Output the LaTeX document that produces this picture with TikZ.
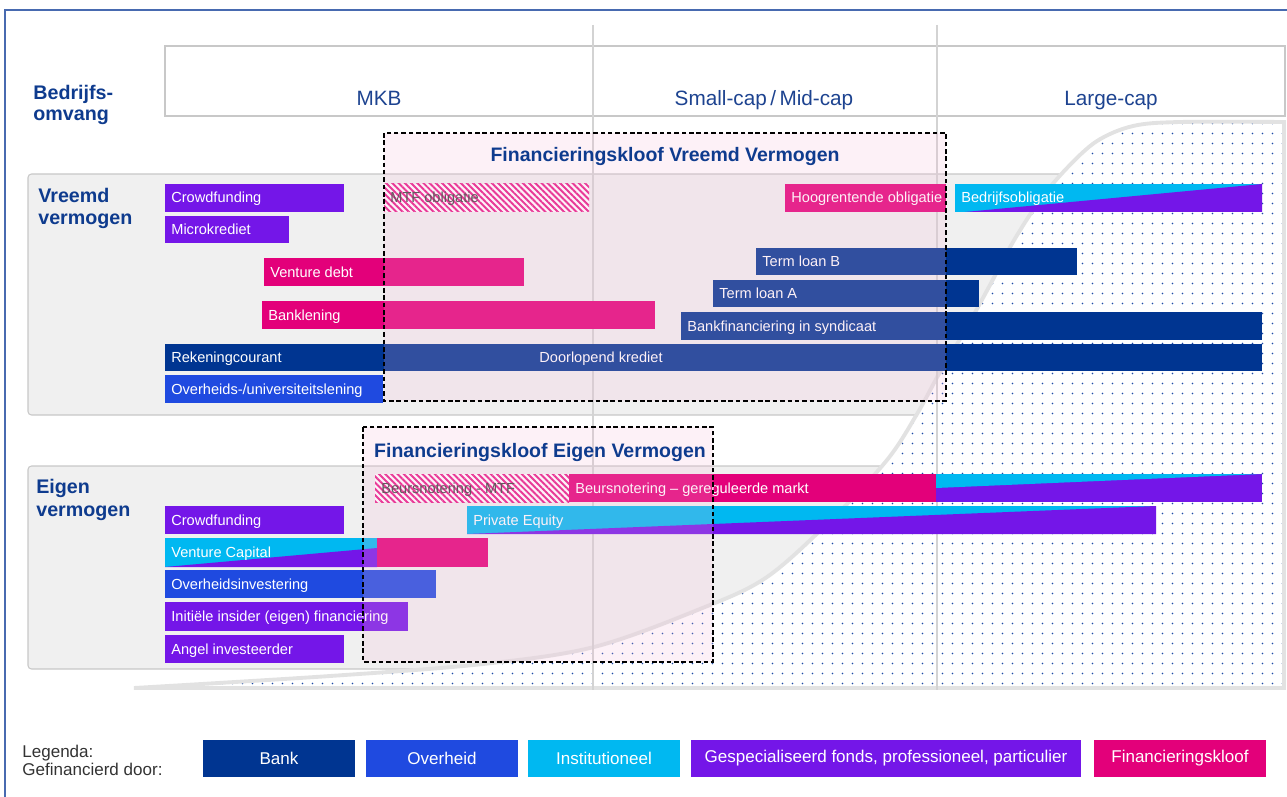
\documentclass[tikz,border=0pt]{standalone}
\usepackage{fontspec}
\setmainfont{Liberation Sans}
\usetikzlibrary{patterns.meta}

\definecolor{bank}{HTML}{003591}
\definecolor{overheid}{HTML}{1F4AE0}
\definecolor{instit}{HTML}{00B8F1}
\definecolor{fonds}{HTML}{7416E8}
\definecolor{kloof}{HTML}{E3007A}
\definecolor{donkerblauw}{HTML}{0E3B8E}
\definecolor{kopblauw}{HTML}{1D4390}
\definecolor{paneel}{HTML}{F0F0F0}
\definecolor{lijngrijs}{HTML}{C8C8C8}
\definecolor{curvegrijs}{HTML}{E2E2E2}
\definecolor{stip}{HTML}{1E4AA8}
\definecolor{roze}{RGB}{245,185,215}
\definecolor{kader}{RGB}{72,106,176}

\tikzset{
  kloofvak/.style={draw=black, line width=0.7pt, dash pattern=on 2.6pt off 1.6pt, fill=roze, fill opacity=0.2},
  arcering/.style={preaction={fill=white}, pattern={Lines[angle=-45,distance=2.5pt,line width=1.1pt]}, pattern color=kloof!90},
  legvak/.style={minimum height=0.74cm, inner sep=0pt, text=white, font=\fontsize{9.7}{11}\selectfont},
}

\begin{document}
\begin{tikzpicture}[x=0.02cm, y=-0.02cm]
\useasboundingbox (0,0) rectangle (1287,797);

% kader en kolomkoppen
\draw[kader, line width=1pt] (5,797) -- (5,10) -- (1287,10);
\draw[lijngrijs, line width=0.7pt] (165,46) rectangle (1285,116);

% panelen
\filldraw[fill=paneel, draw=lijngrijs, line width=0.6pt, rounded corners=2pt] (28,174) rectangle (1120,415);
\filldraw[fill=paneel, draw=lijngrijs, line width=0.6pt, rounded corners=2pt] (28,466) rectangle (1020,669);

% groeicurve met stippen
\path[draw=curvegrijs, line width=2.2pt, preaction={fill=white},
      pattern={Dots[radius=0.5pt,distance=5.4pt]}, pattern color=stip]
  plot[smooth, tension=0.55] coordinates {(134,688) (330,676) (483,664) (594,647) (700,609) (767,577) (833,518) (887,460) (917,414) (940,372) (963,334) (990,285) (1013,242) (1040,200) (1067,168) (1097,141) (1133,126) (1180,122) (1284,122)}
  -- (1284,688) -- cycle;

\draw[curvegrijs!85!gray, line width=1.2pt] (593,25) -- (593,690);
\draw[curvegrijs!85!gray, line width=1.2pt] (937,25) -- (937,690);

\begin{scope}[every node/.style={anchor=base, text=kopblauw, font=\fontsize{11.8}{14}\selectfont}]
  \node (mkb) at (379,106) {MKB};
  \node (smallcap) at (764,106) {Small-cap\,/\,Mid-cap};
  \node (largecap) at (1111,106) {Large-cap};
\end{scope}

\begin{scope}[every node/.style={anchor=base west, inner sep=0pt, text=donkerblauw, font=\fontsize{11.2}{13}\selectfont\bfseries}]
  \node (omv1) at (33,100) {Bedrijfs-};
  \node (omv2) at (33,121) {omvang};
  \node (vv1) at (38,203) {Vreemd};
  \node (vv2) at (38,224) {vermogen};
  \node (ev1) at (36,493) {Eigen};
  \node (ev2) at (36,516) {vermogen};
\end{scope}

% balken vreemd vermogen
\fill[fonds] (165,184) rectangle (344,212);
\fill[fonds] (165,216) rectangle (289,243);
\path[arcering] (384,184) rectangle (589,212);
\fill[kloof] (785,184) rectangle (946,212);
\fill[instit] (955,184) rectangle (1262,212);
\fill[fonds] (965,212) -- (1262,184) -- (1262,212) -- cycle;
\fill[kloof] (264,258) rectangle (524,286);
\fill[bank] (756,248) rectangle (1077,275);
\fill[kloof] (262,301) rectangle (655,329);
\fill[bank] (713,280) rectangle (979,307);
\fill[bank] (681,312) rectangle (1262,340);
\fill[bank] (165,344) rectangle (1262,371);
\fill[overheid] (165,375) rectangle (383,403);

% balken eigen vermogen
\path[arcering] (375,474) rectangle (569,502);
\fill[kloof] (569,474) rectangle (936,502);
\fill[fonds] (936,474) rectangle (1262,502);
\fill[instit] (936,474) -- (1262,474) -- (936,488) -- cycle;
\fill[instit] (467,506) rectangle (1156,534);
\fill[fonds] (467,534) -- (1156,506) -- (1156,534) -- cycle;
\fill[fonds] (165,506) rectangle (344,534);
\fill[instit] (165,538) rectangle (377,567);
\fill[fonds] (165,567) -- (377,548) -- (377,567) -- cycle;
\fill[kloof] (377,538) rectangle (488,567);
\fill[overheid] (165,570) rectangle (436,598);
\fill[fonds] (165,602) rectangle (408,631);
\fill[fonds] (165,635) rectangle (344,663);

\begin{scope}[every node/.style={anchor=base west, inner sep=0pt, text=white, font=\fontsize{8.3}{10}\selectfont}]
  \node (crowdv) at (171,203) {Crowdfunding};
  \node (micro) at (171,234.5) {Microkrediet};
  \node[text=black!75] (mtfobl) at (390,203) {MTF obligatie};
  \node (hoog) at (791,203) {Hoogrentende obligatie};
  \node (bedrijf) at (961,203) {Bedrijfsobligatie};
  \node (vdebt) at (270,277) {Venture debt};
  \node (tlb) at (762,266.5) {Term loan B};
  \node (bankl) at (268,320) {Banklening};
  \node (tla) at (719,298.5) {Term loan A};
  \node (synd) at (687,331) {Bankfinanciering in syndicaat};
  \node (rek) at (171,362.5) {Rekeningcourant};
  \node[anchor=base] (doorl) at (601,362.5) {Doorlopend krediet};
  \node (ovlen) at (171,394) {Overheids-/universiteitslening};
  \node[text=black!75] (mtfbeurs) at (381,493) {Beursnotering - MTF};
  \node (beurs) at (575,493) {Beursnotering -- gereguleerde markt};
  \node (pe) at (473,525) {Private Equity};
  \node (crowde) at (171,525) {Crowdfunding};
  \node (vc) at (171,557.5) {Venture Capital};
  \node (ovinv) at (171,589) {Overheidsinvestering};
  \node (insider) at (171,621.5) {Initiële insider (eigen) financiering};
  \node (angel) at (171,654) {Angel investeerder};
\end{scope}

% financieringskloven
\draw[kloofvak] (384,133) rectangle (946,401);
\draw[kloofvak] (363,427) rectangle (713,662);
\begin{scope}[every node/.style={anchor=base, text=donkerblauw, font=\fontsize{11.1}{13}\selectfont\bfseries}]
  \node (kloofvv) at (665,162) {Financieringskloof Vreemd Vermogen};
  \node (kloofev) at (540,457) {Financieringskloof Eigen Vermogen};
\end{scope}

% legenda
\begin{scope}[every node/.style={anchor=base west, inner sep=0pt, text=black!80, font=\fontsize{9.7}{11}\selectfont}]
  \node (leg1) at (22,757) {Legenda:};
  \node (leg2) at (22,775) {Gefinancierd door:};
\end{scope}
\node[legvak, fill=bank, minimum width=3.04cm] (lbank) at (279,758.5) {Bank};
\node[legvak, fill=overheid, minimum width=3.04cm] (lover) at (442,758.5) {Overheid};
\node[legvak, fill=instit, minimum width=3.04cm] (linst) at (604,758.5) {Institutioneel};
\node[legvak, fill=fonds, minimum width=7.8cm] (lfonds) at (886,758.5) {Gespecialiseerd fonds, professioneel, particulier};
\node[legvak, fill=kloof, minimum width=3.44cm] (lkloof) at (1180,758.5) {Financieringskloof};

\end{tikzpicture}
\end{document}
